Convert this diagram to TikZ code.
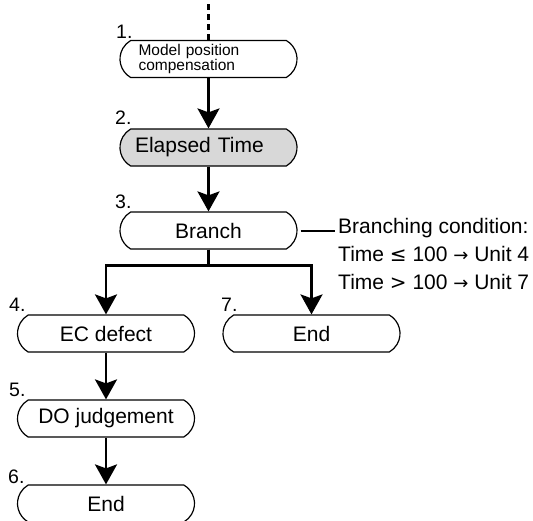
\documentclass[tikz,border=0pt]{standalone}
\usepackage{fontspec}
\setmainfont{Liberation Sans}
\newfontfamily\symfnt{DejaVu Sans}
\usetikzlibrary{shapes.misc,arrows.meta}
\definecolor{boxgray}{RGB}{216,216,216}
\newcommand{\relsym}[1]{{\symfnt\fontsize{20}{20}\selectfont #1}}
\newcommand{\arrsym}{{\symfnt\fontsize{18}{18}\selectfont →}}
\begin{document}
\begin{tikzpicture}[x=1pt,y=-1pt,
  box/.style={rounded rectangle, rounded rectangle arc length=120, draw, line width=1.2pt,
    minimum width=177pt, minimum height=37pt, inner sep=0pt, font=\fontsize{21}{24}\selectfont},
  num/.style={anchor=base west, inner sep=0pt, font=\fontsize{19.5}{22}\selectfont},
  flow/.style={line width=2.6pt, -{Stealth[length=20pt,width=22pt,inset=4pt]}},
  link/.style={line width=2.4pt},
  cond/.style={anchor=base west, inner sep=0pt, font=\fontsize{21}{24}\selectfont}]
\useasboundingbox (0,0) rectangle (533,520);
% boxes
\node[box, text width=140pt, align=left, font=\fontsize{15.5}{15}\selectfont] (n1) at (208.5,59) {Model position\\compensation};
\node[box, fill=boxgray, text width=147pt, align=left] (n2) at (208.5,147.5) {Elapsed Time};
\node[box] (n3) at (208.5,230.5) {Branch};
\node[box] (n4) at (106,333.5) {EC defect};
\node[box] (n7) at (311.5,333.5) {End};
\node[box] (n5) at (106,418.5) {DO judgement};
\node[box] (n6) at (106,503.5) {End};
% numbers
\node[num] (l1) at (116,38) {1.};
\node[num] (l2) at (115,124) {2.};
\node[num] (l3) at (115,208) {3.};
\node[num] (l4) at (9,311) {4.};
\node[num] (l7) at (221,311) {7.};
\node[num] (l5) at (9,396) {5.};
\node[num] (l6) at (8,483) {6.};
% connectors
\coordinate (top) at (208.5,4);
\draw[link, dash pattern=on 6pt off 4pt] (top) -- (n1.north);
\draw[flow] (n1.south) -- (n2.north);
\draw[flow] (n2.south) -- (n3.north);
\draw[flow] (n3.south) -- ++(0,16) -| (n4.north);
\draw[flow] (n3.south) -- ++(0,16) -| (n7.north);
\draw[flow] (n4.south) -- (n5.north);
\draw[flow] (n5.south) -- (n6.north);
% condition
\node[cond] (c1) at (338,233) {Branching condition:};
\node[cond] (c2) at (338,261) {Time \relsym{≤} 100 \arrsym{} Unit 4};
\node[cond] (c3) at (338,289) {Time \relsym{>} 100 \arrsym{} Unit 7};
\draw[line width=2pt] ([xshift=3pt]n3.east) -- ([xshift=-3pt]n3.east -| c1.west);
\end{tikzpicture}
\end{document}
